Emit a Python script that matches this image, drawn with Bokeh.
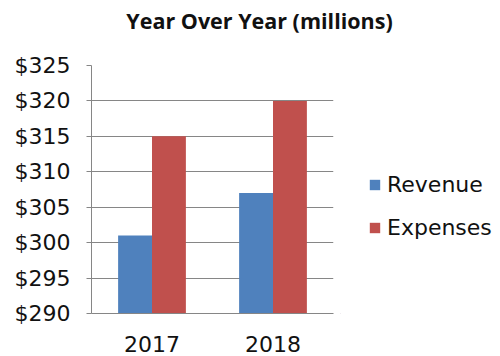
from bokeh.plotting import figure
from bokeh.layouts import column, row
from bokeh.models import (ColumnDataSource, FactorRange, Range1d, Legend, LegendItem,
                          NumeralTickFormatter, FixedTicker, Label)
from bokeh.transform import dodge
from bokeh.embed import file_html
from bokeh.resources import INLINE

years = ["2017", "2018"]
revenue = [301, 307]
expenses = [315, 320]
y_ticks = [290, 295, 300, 305, 310, 315, 320, 325]
title_text = "Year Over Year (millions)"
series_names = ["Revenue", "Expenses"]
series_colors = ["#4F81BD", "#C0504D"]
axis_grey = "#868686"

src = ColumnDataSource(dict(years=years, revenue=revenue, expenses=expenses))

# Title strip
t = figure(width=500, height=45, x_range=Range1d(0, 500), y_range=Range1d(0, 45),
           output_backend="svg", toolbar_location=None, x_axis_type=None, y_axis_type=None,
           min_border=0, outline_line_color=None)
t.add_layout(Label(x=259, y=25, text=title_text, text_align="center", text_baseline="middle",
                   text_font="Open Sans", text_font_style="bold", text_font_size="21.5px",
                   text_color="#111111"))

# Main chart
p = figure(width=340, height=311, x_range=FactorRange(factors=years),
           y_range=Range1d(290, 325), output_backend="svg", toolbar_location=None,
           min_border_left=91, min_border_right=7, min_border_top=20, min_border_bottom=43)

p.vbar(x=dodge("years", -0.14, range=p.x_range), top="revenue", bottom=290, width=0.28,
       source=src, fill_color=series_colors[0], line_color=None)
p.vbar(x=dodge("years", 0.14, range=p.x_range), top="expenses", bottom=290, width=0.28,
       source=src, fill_color=series_colors[1], line_color=None)

p.yaxis.ticker = FixedTicker(ticks=y_ticks)
p.yaxis.formatter = NumeralTickFormatter(format="$0")
for ax in (p.xaxis[0], p.yaxis[0]):
    ax.major_label_text_font = "DejaVu Sans"
    ax.major_label_text_font_size = "22px"
    ax.major_label_text_color = "#111111"
    ax.axis_line_color = axis_grey
    ax.major_tick_line_color = axis_grey
    ax.minor_tick_line_color = None
    ax.major_tick_in = 0
    ax.major_tick_out = 5
p.yaxis.major_label_standoff = 16
p.xaxis.major_tick_line_color = None
p.xaxis.major_label_standoff = 17

p.xgrid.grid_line_color = None
p.ygrid.grid_line_color = axis_grey
p.outline_line_color = None

# Legend strip
q = figure(width=160, height=311, x_range=Range1d(0, 1), y_range=Range1d(0, 1),
           output_backend="svg", toolbar_location=None, x_axis_type=None, y_axis_type=None,
           min_border=0, outline_line_color=None)
items = []
for name, col in zip(series_names, series_colors):
    rr = q.vbar(x=[-5], top=[-5], bottom=-6, width=1, fill_color=col, line_color=None)
    items.append(LegendItem(label=name, renderers=[rr]))
legend = Legend(items=items, location=(28, 73), label_text_font="DejaVu Sans",
                label_text_font_size="22px", label_text_color="#111111",
                glyph_width=13, glyph_height=13, spacing=18, border_line_color=None,
                background_fill_alpha=0, label_standoff=6, padding=0, margin=0)
q.add_layout(legend)

layout = column(t, row(p, q))
open("out.html", "w").write(file_html(layout, INLINE))
